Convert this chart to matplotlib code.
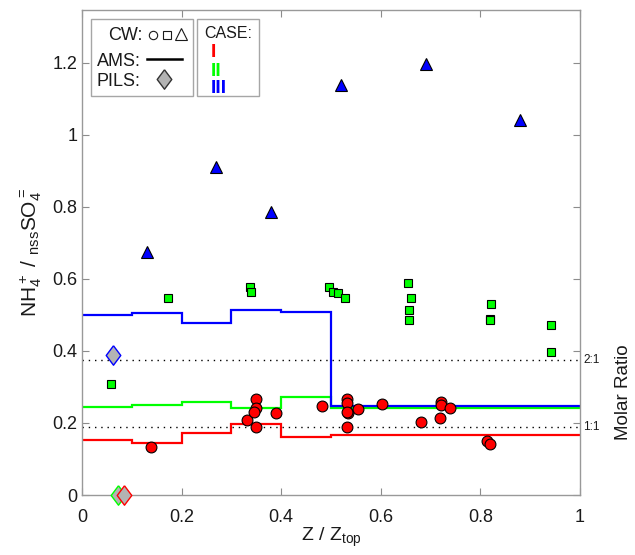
import numpy as np
import matplotlib
matplotlib.use('Agg')
from matplotlib import pyplot as plt
from matplotlib.patches import Rectangle
from matplotlib.ticker import FormatStrFormatter

#%% Data
# CW samples, one marker per case
cw1_x = [0.138, 0.332, 0.349, 0.349, 0.345, 0.349, 0.389, 0.481, 0.533, 0.533, 0.535,
         0.533, 0.533, 0.555, 0.603, 0.680, 0.720, 0.720, 0.739, 0.719, 0.814, 0.819]
cw1_y = [0.134, 0.207, 0.268, 0.243, 0.231, 0.190, 0.227, 0.248, 0.266, 0.255, 0.229,
         0.231, 0.190, 0.239, 0.252, 0.204, 0.259, 0.250, 0.241, 0.215, 0.151, 0.142]
cw2_x = [0.058, 0.173, 0.337, 0.339, 0.496, 0.505, 0.515, 0.529, 0.655, 0.660, 0.657,
         0.657, 0.821, 0.819, 0.819, 0.941, 0.941]
cw2_y = [0.307, 0.546, 0.579, 0.565, 0.579, 0.563, 0.560, 0.548, 0.590, 0.546, 0.513,
         0.487, 0.530, 0.489, 0.486, 0.473, 0.396]
cw3_x = [0.130, 0.270, 0.380, 0.520, 0.690, 0.880]
cw3_y = [0.676, 0.912, 0.787, 1.140, 1.197, 1.042]

# AMS profiles (binned in Z/Ztop)
ams_edges = [0, 0.1, 0.2, 0.3, 0.4, 0.5, 1.0]
ams1 = [0.153, 0.145, 0.173, 0.196, 0.161, 0.167]
ams2 = [0.244, 0.251, 0.257, 0.243, 0.271, 0.241]
ams3 = [0.500, 0.505, 0.479, 0.514, 0.507, 0.246]

# PILS
pils_x = [0.063, 0.073, 0.084]
pils_y = [0.389, 0.0, 0.0]
pils_case = ['III', 'II', 'I']

# molar ratio reference lines (mass ratio NH4/SO4)
ratio_lab = ['2:1', '1:1']
ratio_val = [0.375, 0.1875]

case_col = {'I': (1, 0, 0), 'II': (0, 1, 0), 'III': (0, 0, 1)}

#%% Style
plt.rcParams['font.family'] = ['Liberation Sans', 'DejaVu Sans']
plt.rcParams['mathtext.default'] = 'regular'
W, H = 635, 555
fig = plt.figure(figsize=(W / 100, H / 100), dpi=100)
ax = fig.add_axes([82 / W, 1 - 495 / H, (580 - 82) / W, (495 - 10) / H])

diamond = [(0, 1), (0.75, 0), (0, -1), (-0.75, 0), (0, 1)]

for edges_y, case in zip([ams1, ams2, ams3], ['I', 'II', 'III']):
    ax.stairs(edges_y, ams_edges, baseline=None, color=case_col[case], lw=1.6, zorder=2)

for lab, v in zip(ratio_lab, ratio_val):
    ax.axhline(v, color='k', ls=(0, (1, 3.5)), lw=1.0, zorder=1)
    ax.text(1.006, v, lab, transform=ax.get_yaxis_transform(), fontsize=8.5,
            va='center', ha='left', color='0.1')

ax.plot(cw3_x, cw3_y, ls='none', marker='^', ms=8.5, mfc=case_col['III'], mec='k', mew=0.8, zorder=3)
ax.plot(cw2_x, cw2_y, ls='none', marker='s', ms=5.2, mfc=case_col['II'], mec='k', mew=0.8, zorder=3)
ax.plot(cw1_x, cw1_y, ls='none', marker='o', ms=7.8, mfc=case_col['I'], mec='k', mew=0.8, zorder=4)
for x, y, c in zip(pils_x, pils_y, pils_case):
    ax.plot(x, y, ls='none', marker=diamond, ms=14, mfc='0.7', mec=case_col[c], mew=1.0,
            zorder=5, clip_on=False)

ax.set_xlim(0, 1)
ax.set_ylim(0, 1.347)
ax.set_xticks(np.arange(0, 1.01, 0.2))
ax.set_yticks(np.arange(0, 1.21, 0.2))
ax.xaxis.set_major_formatter(FormatStrFormatter('%g'))
ax.yaxis.set_major_formatter(FormatStrFormatter('%g'))
ax.tick_params(direction='in', top=True, right=True, length=5, width=0.8,
               labelsize=13, colors='0.55', labelcolor='0.1')
ax.tick_params(axis='x', pad=10)
for s in ax.spines.values():
    s.set_color('0.6')
    s.set_linewidth(1.0)

ax.set_xlabel(r'Z / Z$_{top}$', fontsize=14, color='0.1', labelpad=0)
ax.set_ylabel(r'NH$_4^+$ / $_{nss}$SO$_4^=$', fontsize=15, color='0.1', labelpad=6)
fig.text(623 / W, 1 - 392 / H, 'Molar Ratio', rotation=90, fontsize=13.5,
         ha='center', va='center', color='0.1')

#%% Legend boxes drawn in pixel coordinates
lg = fig.add_axes([0, 0, 1, 1], zorder=10)
lg.set_xlim(0, W)
lg.set_ylim(H, 0)
lg.axis('off')
lg.patch.set_alpha(0)
lg.add_patch(Rectangle((90.7, 19), 102.6, 76.7, fc='white', ec='0.65', lw=1.0))
lg.add_patch(Rectangle((197.3, 19), 62, 76.7, fc='white', ec='0.65', lw=1.0))

lg.text(108, 40, 'CW:', fontsize=13, va='baseline', ha='left', color='0.1')
lg.text(96.5, 66, 'AMS:', fontsize=13, va='baseline', ha='left', color='0.1')
lg.text(96.5, 86, 'PILS:', fontsize=13, va='baseline', ha='left', color='0.1')
lg.plot([153], [34.5], marker='o', ms=6, mfc='none', mec='0.1', mew=0.8)
lg.plot([167], [34.5], marker='s', ms=6, mfc='none', mec='0.1', mew=0.8)
lg.plot([181], [33.5], marker='^', ms=8.5, mfc='none', mec='0.1', mew=0.8)
lg.plot([146.7, 181.7], [59, 59], color='k', lw=1.8)
lg.plot([164.3], [79], marker=diamond, ms=14, mfc='0.7', mec='0.2', mew=1.0)

lg.text(204, 38, 'CASE:', fontsize=11.5, va='baseline', ha='left', color='0.1')
for lab, yb in zip(['I', 'II', 'III'], [57, 76, 93]):
    lg.text(210.5, yb, lab, fontsize=14, fontweight='bold', va='baseline', ha='left',
            color=case_col[lab])

fig.savefig('out.png', dpi=100, facecolor='white')
